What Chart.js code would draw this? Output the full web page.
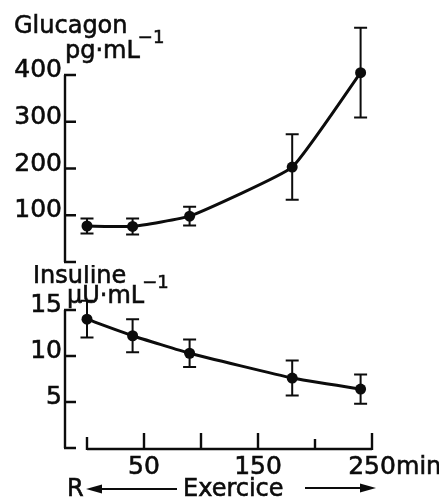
<!DOCTYPE html>
<html>
<head>
<meta charset="utf-8">
<script src="https://cdn.jsdelivr.net/npm/chart.js@4"></script>
<style>
  html, body { margin: 0; padding: 0; background: #fff; }
  #wrap { position: relative; width: 439px; height: 499px; background: #fff; }
  canvas { position: absolute; left: 0; }
  #chart-glucagon { top: 0; }
  #chart-insuline { top: 265px; }
</style>
</head>
<body>
<div id="wrap">
  <canvas id="chart-glucagon" width="439" height="270"></canvas>
  <canvas id="chart-insuline" width="439" height="234"></canvas>
</div>
<script>
// temps (min) - R = repos, puis exercice
const timeMin = [0, 40, 90, 180, 240];

// glucagon pg/mL, moyenne et erreur
const glucagon = [77, 76, 98, 203, 405];
const glucagonErr = [16, 17, 20, 70, 96];

// insuline µU/mL
const insuline = [14.0, 12.2, 10.3, 7.6, 6.4];
const insulineErr = [2.0, 1.8, 1.5, 1.9, 1.6];

// graduations
const glucagonTicks = [0, 100, 200, 300, 400];
const glucagonTickLabels = ['', '100', '200', '300', '400'];
const insulineTicks = [0, 5, 10, 15];
const insulineTickLabels = ['', '5', '10', '15'];
const timeTicks = [0, 50, 100, 150, 200, 250];
const timeTickLabels = ['', '50', '', '150', '', '250'];

const INK = '#0c0c0c';
const FONT = '"DejaVu Sans", "Liberation Sans", Arial, sans-serif';
const NUM_FONT = '25px ' + FONT;

function points(xs, ys) {
  return xs.map((x, i) => ({ x: x, y: ys[i] }));
}

// texte un peu plus gras, comme l'impression d'origine
function inkText(ctx, str, x, y) {
  ctx.fillText(str, x, y);
  ctx.lineWidth = 0.6;
  ctx.strokeStyle = INK;
  ctx.strokeText(str, x, y);
}

// barres d'erreur, dessinées avant les points
const errorBarsPlugin = {
  id: 'errorBars',
  beforeDatasetsDraw(chart, args, opts) {
    const { ctx, scales: { x, y } } = chart;
    ctx.save();
    ctx.strokeStyle = INK;
    ctx.lineWidth = 2;
    opts.values.forEach((v, i) => {
      const px = x.getPixelForValue(opts.times[i]);
      const top = y.getPixelForValue(v + opts.errors[i]);
      const bot = y.getPixelForValue(v - opts.errors[i]);
      ctx.beginPath();
      ctx.moveTo(px, top); ctx.lineTo(px, bot);
      ctx.moveTo(px - 6.5, top); ctx.lineTo(px + 6.5, top);
      ctx.moveTo(px - 6.5, bot); ctx.lineTo(px + 6.5, bot);
      ctx.stroke();
    });
    ctx.restore();
  }
};

// axe vertical à gauche, graduations vers l'intérieur
const yAxisPlugin = {
  id: 'yAxisFrame',
  afterDraw(chart, args, opts) {
    const { ctx, chartArea, scales: { y } } = chart;
    const ax = chartArea.left - 22;
    ctx.save();
    ctx.strokeStyle = INK;
    ctx.lineWidth = 2.4;
    ctx.beginPath();
    ctx.moveTo(ax, y.getPixelForValue(opts.ticks[0]));
    ctx.lineTo(ax, y.getPixelForValue(opts.ticks[opts.ticks.length - 1]));
    opts.ticks.forEach(t => {
      const py = y.getPixelForValue(t);
      ctx.moveTo(ax - 1, py);
      ctx.lineTo(ax + 11, py);
    });
    ctx.stroke();
    ctx.fillStyle = INK;
    ctx.font = NUM_FONT;
    ctx.textAlign = 'right';
    ctx.textBaseline = 'alphabetic';
    opts.ticks.forEach((t, i) => {
      if (!opts.labels[i]) return;
      inkText(ctx, opts.labels[i], ax - 3, y.getPixelForValue(t) + 2);
    });
    ctx.restore();
  }
};

// titre avec unité et exposant
function drawTitle(ctx, title, tx, ty, unit, ux, uy) {
  ctx.save();
  ctx.fillStyle = INK;
  ctx.textAlign = 'left';
  ctx.textBaseline = 'alphabetic';
  ctx.font = '24px ' + FONT;
  inkText(ctx, title, tx, ty);
  inkText(ctx, unit, ux, uy);
  const w = ctx.measureText(unit).width;
  ctx.font = '18px ' + FONT;
  inkText(ctx, '\u22121', ux + w - 2, uy - 15);
  ctx.restore();
}

const titleTopPlugin = {
  id: 'titleTop',
  afterDraw(chart) {
    drawTitle(chart.ctx, 'Glucagon', 14, 33, 'pg\u00b7mL', 65, 58);
  }
};

function arrow(ctx, x1, x2, y) {
  const dir = x2 > x1 ? 1 : -1;
  ctx.beginPath();
  ctx.moveTo(x1, y);
  ctx.lineTo(x2 - dir * 12, y);
  ctx.stroke();
  ctx.beginPath();
  ctx.moveTo(x2, y);
  ctx.lineTo(x2 - dir * 16, y - 4.5);
  ctx.lineTo(x2 - dir * 16, y + 4.5);
  ctx.closePath();
  ctx.fill();
}

const bottomExtrasPlugin = {
  id: 'bottomExtras',
  afterDraw(chart) {
    const { ctx, chartArea, scales: { x } } = chart;
    drawTitle(ctx, 'Insuline', 33, 18, '\u00b5U\u00b7mL', 67, 38);

    // axe du temps
    const ay = chartArea.bottom + 1;
    ctx.save();
    ctx.strokeStyle = INK;
    ctx.fillStyle = INK;
    ctx.lineWidth = 2.4;
    ctx.beginPath();
    ctx.moveTo(x.getPixelForValue(timeTicks[0]), ay);
    ctx.lineTo(x.getPixelForValue(timeTicks[timeTicks.length - 1]), ay);
    timeTicks.forEach((t, i) => {
      const px = x.getPixelForValue(t);
      const len = (i === 0) ? 12 : (i === 4 ? 10 : 16);
      ctx.moveTo(px, ay + 1);
      ctx.lineTo(px, ay - len);
    });
    ctx.stroke();

    ctx.font = NUM_FONT;
    ctx.textAlign = 'center';
    ctx.textBaseline = 'alphabetic';
    timeTicks.forEach((t, i) => {
      if (!timeTickLabels[i]) return;
      inkText(ctx, timeTickLabels[i], x.getPixelForValue(t), ay + 25);
    });
    ctx.textAlign = 'left';
    const lastX = x.getPixelForValue(timeTicks[timeTicks.length - 1]);
    ctx.font = '24px ' + FONT;
    inkText(ctx, 'min', lastX + 24, ay + 25);

    // R <---- Exercice ---->
    const by = ay + 47;
    inkText(ctx, 'R', 67, by);
    inkText(ctx, 'Exercice', 183, by);
    ctx.lineWidth = 2.2;
    arrow(ctx, 177, 86, by - 7);
    arrow(ctx, 305, 376, by - 8);
    ctx.restore();
  }
};

function lineDataset(label, xs, ys) {
  return {
    label: label,
    data: points(xs, ys),
    borderColor: INK,
    borderWidth: 3,
    pointRadius: 5.5,
    pointBackgroundColor: INK,
    pointBorderColor: INK,
    pointBorderWidth: 0,
    tension: 0.12,
    fill: false,
    clip: false
  };
}

function baseOptions(padding, yMin, yMax, pluginOpts) {
  return {
    responsive: false,
    animation: false,
    devicePixelRatio: 1,
    layout: { padding: padding },
    scales: {
      x: { type: 'linear', min: 0, max: 250, display: false },
      y: { type: 'linear', min: yMin, max: yMax, display: false }
    },
    plugins: Object.assign({
      legend: { display: false },
      tooltip: { enabled: false }
    }, pluginOpts)
  };
}

new Chart(document.getElementById('chart-glucagon'), {
  type: 'line',
  data: { datasets: [lineDataset('Glucagon', timeMin, glucagon)] },
  options: baseOptions(
    { left: 87, right: 67, top: 75, bottom: 8 }, 0, 400,
    {
      errorBars: { times: timeMin, values: glucagon, errors: glucagonErr },
      yAxisFrame: { ticks: glucagonTicks, labels: glucagonTickLabels }
    }
  ),
  plugins: [errorBarsPlugin, yAxisPlugin, titleTopPlugin]
});

new Chart(document.getElementById('chart-insuline'), {
  type: 'line',
  data: { datasets: [lineDataset('Insuline', timeMin, insuline)] },
  options: baseOptions(
    { left: 87, right: 67, top: 45, bottom: 51 }, 0, 15,
    {
      errorBars: { times: timeMin, values: insuline, errors: insulineErr },
      yAxisFrame: { ticks: insulineTicks, labels: insulineTickLabels }
    }
  ),
  plugins: [errorBarsPlugin, yAxisPlugin, bottomExtrasPlugin]
});
</script>
</body>
</html>
